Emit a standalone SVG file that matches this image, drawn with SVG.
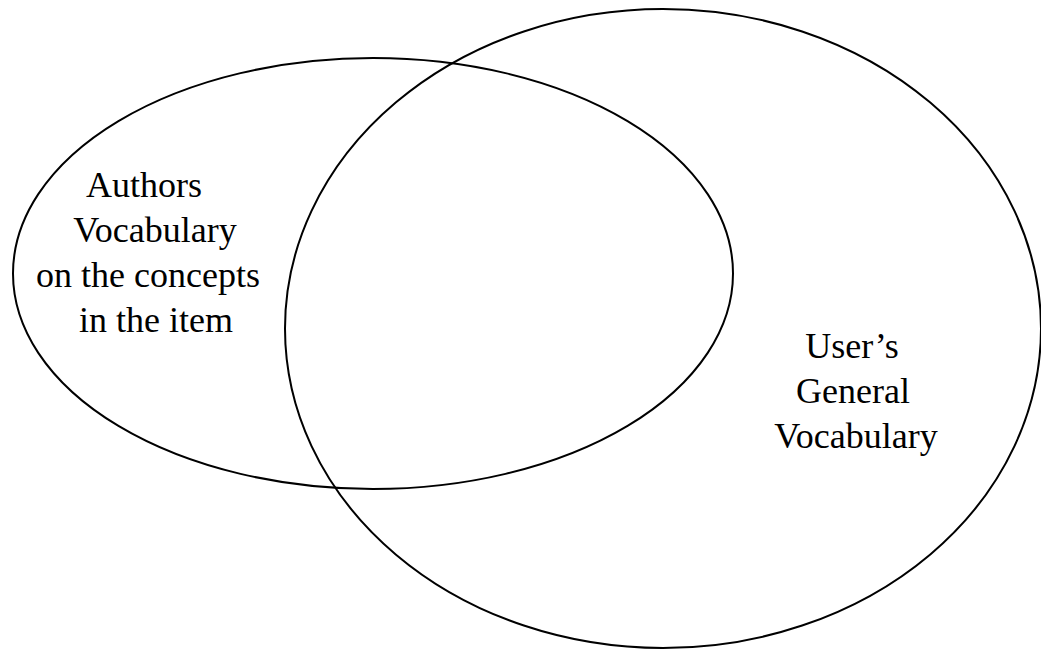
<svg xmlns="http://www.w3.org/2000/svg" width="1041" height="650" viewBox="0 0 1041 650">
<style>
.set{fill:none;stroke:#000;stroke-width:2}
.lbl{font-family:"Liberation Serif","Times New Roman",serif;font-size:36px;fill:#000;text-anchor:middle}
</style>
<rect width="1041" height="650" fill="#fff"/>
<g id="authors-vocabulary">
<ellipse class="set" cx="373" cy="273.5" rx="360" ry="215.5"/>
<text class="lbl"><tspan x="144" y="197">Authors</tspan><tspan x="155" y="242">Vocabulary</tspan><tspan x="148" y="287">on the concepts</tspan><tspan x="156" y="332">in the item</tspan></text>
</g>
<g id="users-general-vocabulary">
<ellipse class="set" cx="663" cy="328.5" rx="378" ry="319.5"/>
<text class="lbl"><tspan x="852" y="358">User’s</tspan><tspan x="853" y="403">General</tspan><tspan x="856" y="448">Vocabulary</tspan></text>
</g>
<g id="connectors"></g>
</svg>
